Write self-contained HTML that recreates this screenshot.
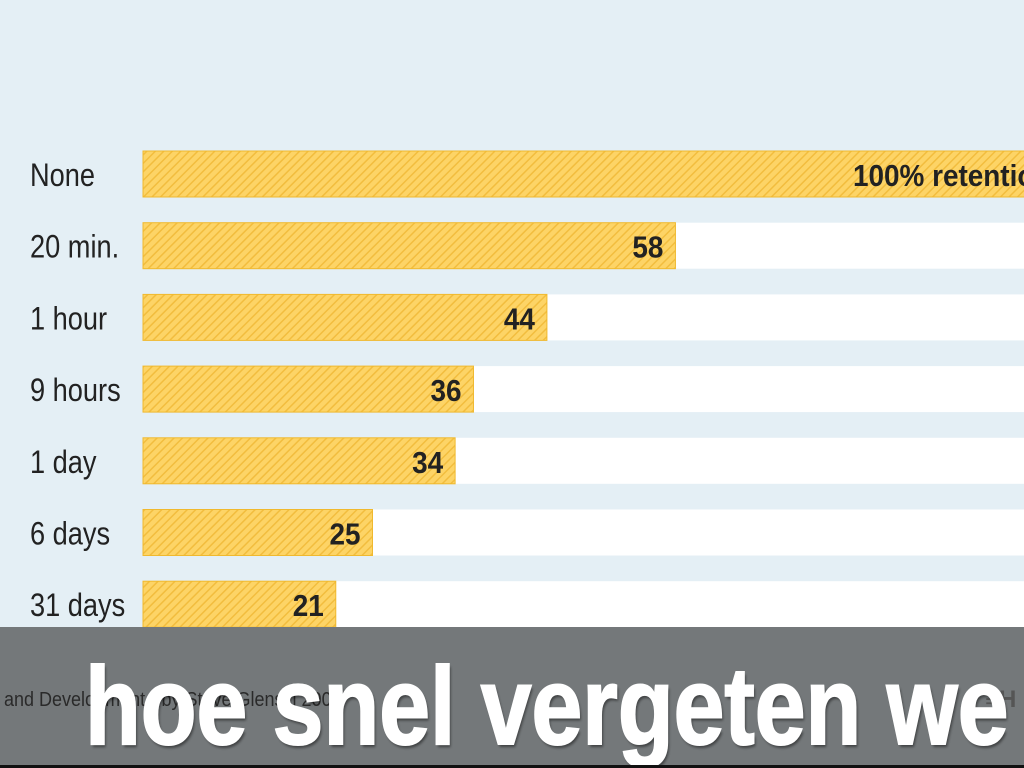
<!DOCTYPE html>
<html><head><meta charset="utf-8"><style>
body{margin:0;width:1024px;height:768px;overflow:hidden;background:#e4eff5;font-family:"Liberation Sans",sans-serif;position:relative}
svg{position:absolute;left:0;top:0}
#band{position:absolute;left:0;top:627px;width:1024px;height:138px;background:#74787a}
#line{position:absolute;left:0;top:765px;width:1024px;height:3px;background:#111}
#src{position:absolute;left:4px;top:689px;font-size:20px;color:#2a2a2a;white-space:nowrap;transform-origin:0 0;transform:scaleX(0.9)}
#logo{position:absolute;left:985px;top:686px;font-size:24px;font-weight:bold;color:#555}
#title{position:absolute;left:85px;top:652px;font-size:110px;line-height:1;font-weight:bold;color:#fff;white-space:nowrap;transform-origin:0 0;transform:scaleX(0.83);text-shadow:2px 3px 3px rgba(0,0,0,.45);-webkit-text-stroke:2px #fff}
</style></head><body>
<svg width="1024" height="768">
<defs><pattern id="hatch" width="6" height="6" patternUnits="userSpaceOnUse" patternTransform="rotate(45)"><rect width="6" height="6" fill="#fdd466"/><rect width="1.5" height="6" fill="#f2bd3e"/></pattern></defs>
<g id="chart"></g>
</svg>
<div id="band"></div>
<div id="src">and Development," by Steve Glenski 2009</div>
<div id="logo">≡H</div>
<div id="title">hoe snel vergeten we</div>
<div id="line"></div>
<script>
const categories=["None","20 min.","1 hour","9 hours","1 day","6 days","31 days"];
const values=[100,58,44,36,34,25,21];
const valueLabels=["100% retention","58","44","36","34","25","21"];
const x0=143,pxPer=9.18,top0=151,pitch=71.7,bh=46;
const xs=v=>x0+v*pxPer;
const ys=i=>top0+i*pitch;
const g=document.getElementById('chart');
const NS="http://www.w3.org/2000/svg";
categories.forEach((c,i)=>{
 const y=ys(i);
 const bg=document.createElementNS(NS,'rect');
 bg.setAttribute('x',x0);bg.setAttribute('y',y);bg.setAttribute('width',1024-x0);bg.setAttribute('height',bh);bg.setAttribute('fill','#fff');
 
 
 g.appendChild(bg);
 const r=document.createElementNS(NS,'rect');
 r.setAttribute('x',x0);r.setAttribute('y',y);r.setAttribute('width',xs(values[i])-x0);r.setAttribute('height',bh);r.setAttribute('fill','url(#hatch)');r.setAttribute('stroke','#f0b92e');r.setAttribute('stroke-width','1');
 
 
 g.appendChild(r);
 const t=document.createElementNS(NS,'text');
 t.setAttribute('transform','translate(30,'+(y+35)+') scale(0.85,1)');t.setAttribute('font-size','32');t.setAttribute('fill','#222');t.textContent=c;
 
 
 g.appendChild(t);
 const v=document.createElementNS(NS,'text');
 const vx=i===0?853:xs(values[i])-12;
 v.setAttribute('transform','translate('+vx+','+(y+35)+') scale(0.9,1)');v.setAttribute('font-size','31');v.setAttribute('font-weight','bold');v.setAttribute('fill','#222');
 if(i!==0)v.setAttribute('text-anchor','end');
 v.textContent=valueLabels[i];
 
 
 g.appendChild(v);
});
</script>
</body></html>
